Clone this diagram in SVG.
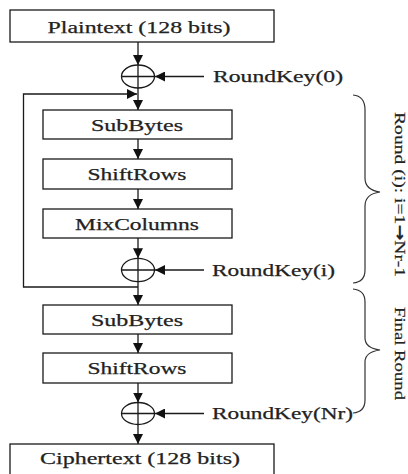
<svg xmlns="http://www.w3.org/2000/svg" width="408" height="474" viewBox="0 0 408 474">
  <style>
    .box { fill: #ffffff; stroke: #1a1a1a; stroke-width: 1.3; }
    .xor { fill: none; stroke: #1a1a1a; stroke-width: 1.3; }
    .lbl { font-family: "Liberation Serif", "Times New Roman", serif; font-size: 17px; fill: #222222; stroke: #222222; stroke-width: 0.25; }
    .side { font-family: "Liberation Serif", "Times New Roman", serif; font-size: 15.5px; fill: #222222; stroke: #222222; stroke-width: 0.2; }
    .arw { font-family: "DejaVu Sans", sans-serif; font-weight: bold; font-size: 15px; }
    .wire { fill: none; stroke: #1a1a1a; stroke-width: 1.3; }
    .brace { fill: none; stroke: #333333; stroke-width: 1.2; }
  </style>
  <defs>
    <marker id="arrow" markerUnits="userSpaceOnUse" markerWidth="10" markerHeight="10" viewBox="0 0 10 10" refX="10" refY="5" orient="auto">
      <path d="M0 0 L10 5 L0 10 Z" fill="#111111"/>
    </marker>
  </defs>

  <rect width="408" height="474" fill="#ffffff"/>

  <!-- input block -->
  <g id="plaintext">
    <rect class="box" x="10" y="10" width="264" height="32"/>
    <text class="lbl" x="139" y="32.5" text-anchor="middle" textLength="183" lengthAdjust="spacingAndGlyphs">Plaintext (128 bits)</text>
  </g>

  <!-- initial key addition -->
  <g id="xor0">
    <ellipse class="xor" cx="138" cy="76.5" rx="16.5" ry="11.5"/>
    <path class="xor" d="M121.5 76.5 H154.5 M138 65 V88"/>
  </g>
  <g id="roundkey0">
    <text class="lbl" x="213" y="82" textLength="130" lengthAdjust="spacingAndGlyphs">RoundKey(0)</text>
  </g>

  <!-- round (i) -->
  <g id="subbytes1">
    <rect class="box" x="43" y="110" width="189" height="29"/>
    <text class="lbl" x="137" y="130.5" text-anchor="middle" textLength="92" lengthAdjust="spacingAndGlyphs">SubBytes</text>
  </g>
  <g id="shiftrows1">
    <rect class="box" x="43" y="159" width="189" height="30"/>
    <text class="lbl" x="137" y="180" text-anchor="middle" textLength="99" lengthAdjust="spacingAndGlyphs">ShiftRows</text>
  </g>
  <g id="mixcolumns">
    <rect class="box" x="43" y="209" width="189" height="29"/>
    <text class="lbl" x="137" y="229.5" text-anchor="middle" textLength="124" lengthAdjust="spacingAndGlyphs">MixColumns</text>
  </g>
  <g id="xor1">
    <ellipse class="xor" cx="138" cy="270" rx="16.5" ry="11.7"/>
    <path class="xor" d="M121.5 270 H154.5 M138 258.3 V281.7"/>
  </g>
  <g id="roundkeyi">
    <text class="lbl" x="212" y="275.5" textLength="123" lengthAdjust="spacingAndGlyphs">RoundKey(i)</text>
  </g>

  <!-- final round -->
  <g id="subbytes2">
    <rect class="box" x="43" y="305" width="189" height="29"/>
    <text class="lbl" x="137" y="325.5" text-anchor="middle" textLength="92" lengthAdjust="spacingAndGlyphs">SubBytes</text>
  </g>
  <g id="shiftrows2">
    <rect class="box" x="43" y="353" width="189" height="30"/>
    <text class="lbl" x="137" y="374" text-anchor="middle" textLength="99" lengthAdjust="spacingAndGlyphs">ShiftRows</text>
  </g>
  <g id="xor2">
    <ellipse class="xor" cx="138" cy="413.5" rx="16.5" ry="11"/>
    <path class="xor" d="M121.5 413.5 H154.5 M138 402.5 V424.5"/>
  </g>
  <g id="roundkeynr">
    <text class="lbl" x="212" y="419" textLength="141" lengthAdjust="spacingAndGlyphs">RoundKey(Nr)</text>
  </g>

  <!-- output block -->
  <g id="ciphertext">
    <rect class="box" x="10" y="444" width="264" height="40"/>
    <text class="lbl" x="140" y="464" text-anchor="middle" textLength="200" lengthAdjust="spacingAndGlyphs">Ciphertext (128 bits)</text>
  </g>

  <!-- data flow -->
  <g id="connectors">
    <path class="wire" d="M138 42 V65" marker-end="url(#arrow)"/>
    <path class="wire" d="M204 76.5 H155" marker-end="url(#arrow)"/>
    <path class="wire" d="M138 88 V110" marker-end="url(#arrow)"/>
    <path class="wire" d="M138 287 H23.5 V94 H137" marker-end="url(#arrow)"/>
    <path class="wire" d="M138 139 V159" marker-end="url(#arrow)"/>
    <path class="wire" d="M138 189 V209" marker-end="url(#arrow)"/>
    <path class="wire" d="M138 238 V258.3" marker-end="url(#arrow)"/>
    <path class="wire" d="M204 270 H155" marker-end="url(#arrow)"/>
    <path class="wire" d="M138 281.7 V305" marker-end="url(#arrow)"/>
    <path class="wire" d="M138 334 V353" marker-end="url(#arrow)"/>
    <path class="wire" d="M138 383 V402.5" marker-end="url(#arrow)"/>
    <path class="wire" d="M204 413.5 H155" marker-end="url(#arrow)"/>
    <path class="wire" d="M138 424.5 V444" marker-end="url(#arrow)"/>
  </g>

  <!-- round braces and labels -->
  <g id="round-brace">
    <path class="brace" d="M353 95 Q365 96 365 110 V178 Q365 190 380 192 Q365 194 365 206 V270 Q365 282 353 283"/>
    <text class="side" transform="translate(395 194.5) rotate(90)" text-anchor="middle" textLength="165" lengthAdjust="spacingAndGlyphs">Round (i): i=1<tspan class="arw">→</tspan>Nr-1</text>
  </g>
  <g id="final-brace">
    <path class="brace" d="M353 289 Q365 290 365 302 V338 Q365 348 380 350 Q365 352 365 362 V400 Q365 412 353 413"/>
    <text class="side" transform="translate(395 353.5) rotate(90)" text-anchor="middle" textLength="93" lengthAdjust="spacingAndGlyphs">Final Round</text>
  </g>
</svg>
